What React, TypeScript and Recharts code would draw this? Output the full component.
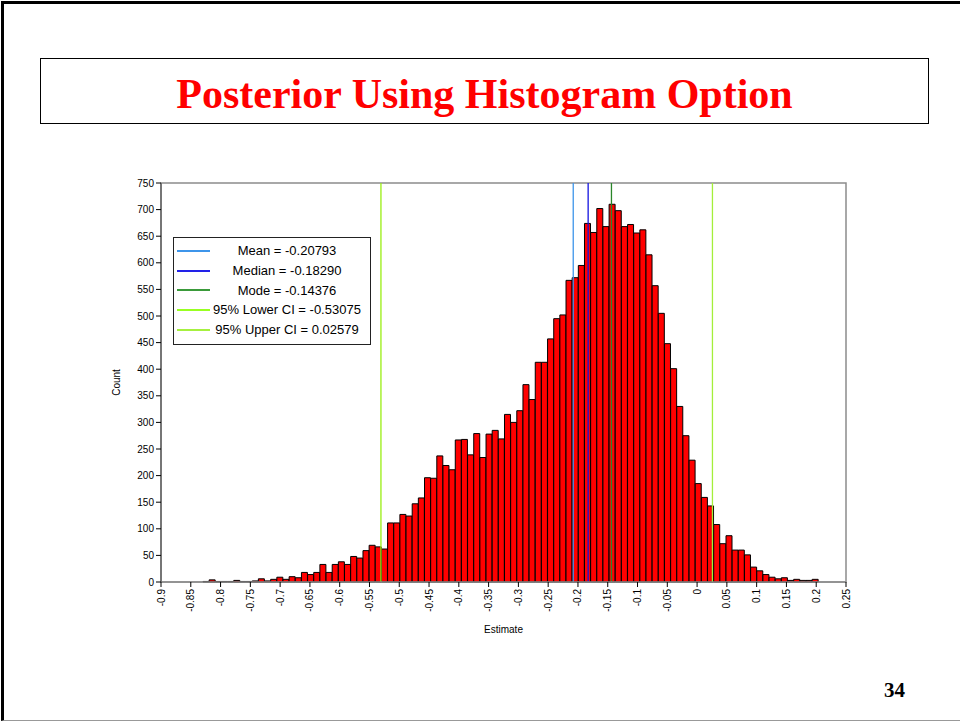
import React from 'react';
import { BarChart, Bar, XAxis, YAxis, ReferenceLine, ReferenceArea, Legend } from 'recharts';

// Histogram bins: 100 bins starting at BIN_START, each BIN_WIDTH wide
const BIN_START = -0.8295;
const BIN_WIDTH = 0.01033;

const counts = [
  1, 4, 1, 1, 1, 3, 1, 1, 2, 6,
  2, 5, 9, 5, 10, 8, 18, 14, 18, 33,
  18, 33, 38, 33, 48, 45, 59, 69, 66, 62,
  111, 111, 127, 124, 147, 158, 196, 195, 237, 219,
  211, 267, 268, 239, 279, 234, 278, 285, 269, 315,
  300, 322, 371, 343, 413, 413, 457, 495, 502, 567,
  572, 595, 674, 657, 702, 668, 710, 698, 668, 672,
  656, 662, 615, 557, 505, 448, 401, 330, 275, 229,
  185, 159, 143, 108, 72, 87, 60, 60, 51, 28,
  21, 14, 9, 6, 8, 3, 5, 3, 3, 5,
];

const xTicks = [
  -0.9, -0.85, -0.8, -0.75, -0.7, -0.65, -0.6, -0.55, -0.5, -0.45, -0.4, -0.35,
  -0.3, -0.25, -0.2, -0.15, -0.1, -0.05, 0, 0.05, 0.1, 0.15, 0.2, 0.25,
];
const xTickLabels = [
  '-0.9', '-0.85', '-0.8', '-0.75', '-0.7', '-0.65', '-0.6', '-0.55', '-0.5', '-0.45', '-0.4', '-0.35',
  '-0.3', '-0.25', '-0.2', '-0.15', '-0.1', '-0.05', '0', '0.05', '0.1', '0.15', '0.2', '0.25',
];
const yTicks = [0, 50, 100, 150, 200, 250, 300, 350, 400, 450, 500, 550, 600, 650, 700, 750];

const statNames = ['Mean', 'Median', 'Mode', '95% Lower CI', '95% Upper CI'];
const statValues = [-0.20793, -0.1829, -0.14376, -0.53075, 0.02579];
const statLabels = ['-0.20793', '-0.18290', '-0.14376', '-0.53075', '0.02579'];
const statColors = ['#3d95ea', '#1414e0', '#2a862a', '#99ee11', '#a4ee3a'];
const legendColors = ['#3d95ea', '#2222e8', '#3a9a3a', '#99ff22', '#a6f040'];

const data = counts.map((c, i) => ({ x: BIN_START + BIN_WIDTH * (i + 0.5), count: c }));

const SANS = '"Liberation Sans", Arial, sans-serif';
const SERIF = '"Liberation Serif", "Times New Roman", serif';

const XTick = (props: any) => {
  const { x, y, payload } = props;
  const idx = xTicks.findIndex((t) => Math.abs(t - payload.value) < 1e-9);
  const label = idx >= 0 ? xTickLabels[idx] : String(payload.value);
  return (
    <text
      x={x}
      y={y}
      transform={`rotate(-90 ${x} ${y})`}
      textAnchor="end"
      dominantBaseline="central"
      fontSize={10}
      fontFamily={SANS}
      fill="#000"
    >
      {label}
    </text>
  );
};

const LegendBox = () => (
  <div
    style={{
      width: 198,
      height: 108,
      boxSizing: 'border-box',
      border: '1px solid #222',
      background: '#fff',
      paddingTop: 3,
      fontFamily: SANS,
      fontSize: 13,
      color: '#000',
    }}
  >
    {statNames.map((n, i) => (
      <div key={n} style={{ display: 'flex', alignItems: 'center', height: 19.7 }}>
        <div style={{ marginLeft: 3, width: 33, height: 2, background: legendColors[i] }} />
        <div style={{ flex: 1, textAlign: 'center', paddingRight: 6, whiteSpace: 'nowrap' }}>
          {`${n} = ${statLabels[i]}`}
        </div>
      </div>
    ))}
  </div>
);

export default function App() {
  return (
    <div style={{ position: 'absolute', left: 0, top: 0, width: 960, height: 721, background: '#fff', overflow: 'hidden' }}>
      <div
        style={{
          position: 'absolute',
          left: 1,
          top: 1,
          width: 959,
          height: 720,
          boxSizing: 'border-box',
          borderLeft: '3px solid #000',
          borderTop: '3px solid #000',
          borderBottom: '1px solid #999',
        }}
      />
      <div
        style={{
          position: 'absolute',
          left: 40,
          top: 58,
          width: 889,
          height: 66,
          boxSizing: 'border-box',
          border: '1px solid #000',
          borderTop: '1.5px solid #000',
          textAlign: 'center',
          fontFamily: SERIF,
          fontWeight: 'bold',
          fontSize: 42,
          lineHeight: '48px',
          paddingTop: 11,
          color: '#ff0000',
          whiteSpace: 'nowrap',
        }}
      >
        Posterior Using Histogram Option
      </div>
      <div
        style={{
          position: 'absolute',
          left: 884,
          top: 680,
          fontFamily: SERIF,
          fontWeight: 'bold',
          fontSize: 21,
          lineHeight: '21px',
          color: '#000',
        }}
      >
        34
      </div>
      <div style={{ position: 'absolute', left: 0, top: 0 }}>
        <BarChart
          width={960}
          height={721}
          data={data}
          margin={{ top: 183, right: 114, bottom: 99, left: 101 }}
          barCategoryGap={0}
          barGap={0}
          style={{ fontFamily: SANS }}
        >
          <ReferenceArea x1={-0.9} x2={0.25} y1={0} y2={750} fill="none" stroke="#8c8c8c" strokeWidth={1.5} />
          <XAxis
            type="number"
            dataKey="x"
            domain={[-0.9, 0.25]}
            ticks={xTicks}
            interval={0}
            tick={<XTick />}
            tickSize={5}
            tickMargin={2}
            height={40}
            axisLine={{ stroke: '#8c8c8c', strokeWidth: 1.5 }}
            tickLine={{ stroke: '#000' }}
            label={{
              value: 'Estimate',
              content: (p: any) => (
                <text
                  x={p.viewBox.x + p.viewBox.width / 2}
                  y={p.viewBox.y + 47}
                  textAnchor="middle"
                  dominantBaseline="central"
                  fontSize={10}
                  fontFamily={SANS}
                  fill="#000"
                >
                  Estimate
                </text>
              ),
            }}
          />
          <YAxis
            type="number"
            domain={[0, 750]}
            ticks={yTicks}
            interval={0}
            width={60}
            tickSize={5}
            tickMargin={2}
            tick={{ fontSize: 10, fill: '#000', fontFamily: SANS }}
            axisLine={{ stroke: '#666', strokeWidth: 1.5 }}
            tickLine={{ stroke: '#000' }}
            label={{
              value: 'Count',
              content: (p: any) => {
                const cx = p.viewBox.x + 15;
                const cy = p.viewBox.y + p.viewBox.height / 2;
                return (
                  <text
                    x={cx}
                    y={cy}
                    transform={`rotate(-90 ${cx} ${cy})`}
                    textAnchor="middle"
                    dominantBaseline="central"
                    fontSize={10}
                    fontFamily={SANS}
                    fill="#000"
                  >
                    Count
                  </text>
                );
              },
            }}
          />
          <Bar dataKey="count" fill="#ff0000" stroke="#000" strokeWidth={1} isAnimationActive={false} />
          {statValues.map((v, i) => (
            <ReferenceLine key={statNames[i]} x={v} stroke={statColors[i]} strokeWidth={1.3} />
          ))}
          <Legend
            layout="vertical"
            align="center"
            verticalAlign="middle"
            wrapperStyle={{ position: 'absolute', left: 173, top: 237, width: 198, height: 108 }}
            content={() => <LegendBox />}
          />
        </BarChart>
      </div>
    </div>
  );
}
